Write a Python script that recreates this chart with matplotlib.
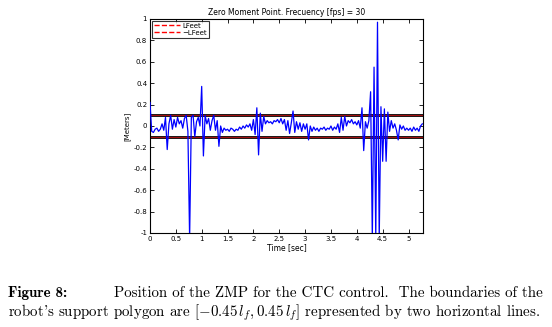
import numpy as np
import matplotlib
matplotlib.use('Agg')
import matplotlib.pyplot as plt

# ZMP signal sampled at 30 fps
fps = 30
zmp = [0.22, -0.05, -0.06, -0.03, -0.02, -0.05, -0.03, 0.02, -0.04, 0.08,
       -0.22, 0.02, 0.10, -0.03, 0.06, -0.01, 0.08, 0.02, 0.05, -0.02,
       0.07, 0.10, -0.05, -1.05, 0.08, 0.10, -0.10, 0.04, 0.08, 0.00,
       0.37, -0.28, 0.10, 0.02, 0.07, -0.04, 0.05, 0.10, -0.04, 0.05,
       -0.19, 0.00, -0.06, -0.02, -0.04, -0.03, -0.05, -0.02, -0.03, -0.05,
       -0.03, -0.04, -0.01, -0.03, 0.00, -0.02, 0.01, -0.01, 0.02, -0.04,
       0.06, -0.08, 0.17, -0.27, 0.12, -0.05, 0.09, 0.02, 0.05, 0.03,
       0.04, 0.02, 0.05, 0.04, 0.06, 0.03, 0.07, 0.02, 0.06, -0.04,
       0.05, -0.07, 0.03, 0.14, -0.06, 0.04, -0.03, 0.03, -0.05, 0.02,
       -0.03, 0.02, -0.13, 0.00, -0.05, -0.01, -0.04, -0.02, -0.05, -0.02,
       -0.03, -0.01, -0.04, -0.02, -0.03, 0.00, -0.04, -0.01, -0.03, 0.02,
       -0.06, 0.08, -0.04, 0.09, 0.00, 0.05, 0.03, 0.06, 0.02, 0.04,
       0.01, 0.05, -0.02, 0.17, -0.23, 0.04, -0.02, 0.05, 0.32, -1.05,
       0.55, -1.05, 0.97, -1.05, 0.18, -0.33, 0.16, -0.33, 0.13, -0.05,
       0.05, -0.02, 0.02, -0.04, -0.13, 0.01, -0.03, 0.00, -0.04, -0.02,
       -0.04, -0.02, -0.05, -0.01, -0.04, -0.02, -0.05, 0.00, 0.02]
t = np.arange(len(zmp)) / fps

lfeet = 0.1  # support polygon boundary [m]

plt.rcParams['mathtext.fontset'] = 'cm'

fig = plt.figure(figsize=(5.52, 3.27), dpi=100)
ax = fig.add_axes([0.2717, 0.2875, 0.4946, 0.6544])

ax.plot(t, zmp, color='#0000ff', lw=0.9, zorder=3)
ax.axhline(lfeet, color='black', lw=2.0, zorder=2)
ax.axhline(-lfeet, color='black', lw=2.0, zorder=2)
ax.axhline(lfeet, color='#a01010', lw=0.8, zorder=2.5)
ax.axhline(-lfeet, color='#a01010', lw=0.8, zorder=2.5)
l1, = ax.plot([], [], color='red', ls='--', lw=1.0, label='LFeet')
l2, = ax.plot([], [], color='red', ls='--', lw=1.0, label='\u2212LFeet')

ax.set_xlim(0, 5.28)
ax.set_ylim(-1, 1)
ax.set_xticks(np.arange(0, 5.01, 0.5))
ax.set_xticklabels(['0', '0.5', '1', '1.5', '2', '2.5', '3', '3.5', '4', '4.5', '5'])
ax.set_yticks(np.arange(-1, 1.01, 0.2))
ax.set_yticklabels(['-1', '-0.8', '-0.6', '-0.4', '-0.2', '0', '0.2', '0.4', '0.6', '0.8', '1'])
ax.tick_params(direction='in', top=True, right=True, labelsize=5, length=3, width=0.6, pad=2)
for s in ax.spines.values():
    s.set_linewidth(0.8)

ax.set_title('Zero Moment Point. Frecuency [fps] = 30', fontsize=5.5, pad=3)
ax.set_xlabel('Time [sec]', fontsize=5.5, labelpad=1)
ax.set_ylabel('[Meters]', fontsize=5, labelpad=2)

leg = ax.legend(handles=[l1, l2], loc='upper left', fontsize=5, frameon=True,
                fancybox=False, edgecolor='black', borderpad=0.3, handlelength=3.8,
                handletextpad=0.3, labelspacing=0.15, borderaxespad=0.25)
leg.get_frame().set_linewidth(0.8)

# caption
fig.text(0.0145, 0.092, 'Figure 8:', fontsize=10.8, family='cmb10', va='baseline')
fig.text(0.984, 0.092, 'Position of the ZMP for the CTC control.  The boundaries of the',
         fontsize=10.8, family='cmr10', va='baseline', ha='right')
fig.text(0.0145, 0.031, "robot's support polygon are $[-0.45\\,l_f, 0.45\\,l_f]$ represented by two horizontal lines.",
         fontsize=10.8, family='cmr10', va='baseline')

plt.savefig('out.png', dpi=100)
plt.close()
